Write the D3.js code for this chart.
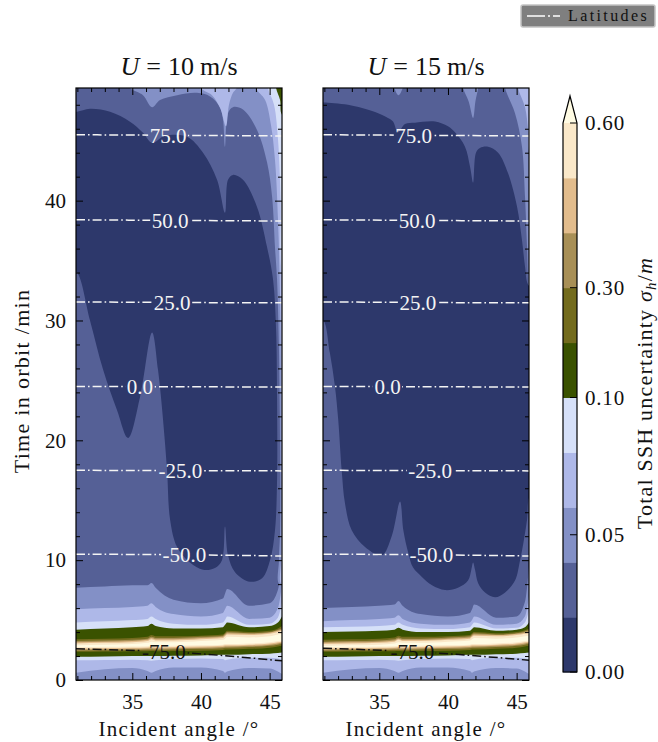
<!DOCTYPE html>
<html><head><meta charset="utf-8">
<script src="https://cdn.jsdelivr.net/npm/d3@7"></script>
<style>
body{margin:0;background:#fff;}
svg text{font-family:"Liberation Serif","Times New Roman",serif;fill:#111;}
</style></head><body>
<svg id="chart" width="658" height="742"></svg>
<script>
// ---------------- data ----------------
const levels = [0, 0.02, 0.04, 0.06, 0.08, 0.10, 0.20, 0.30, 0.40, 0.50, 0.60];
const bandColors = ['#2d386b','#556096','#8390c6','#aeb8e8','#d6e0f8','#3a5200','#736b1d','#a88f56','#e2bc8c','#fae8c9'];
const overColor = '#fffbe3';
const cbTickValues = [0, 0.05, 0.10, 0.30, 0.60];
const cbTickLabels = ['0.00','0.05','0.10','0.30','0.60'];
const xTicks = [35, 40, 45];
const xMinor = [31,32,33,34,36,37,38,39,41,42,43,44];
const yTicks = [0, 10, 20, 30, 40];
const yMinor = [2,4,6,8,12,14,16,18,22,24,26,28,32,34,36,38,42,44,46,48];
const angleDomain = [30.9, 45.9];
const timeDomain = [0, 49.4];
const windSpeeds = [10, 15];

// latitude contour lines (time at angles latAngles)
const latitudes = [-75, -50, -25, 0, 25, 50, 75];
const latAngles = [30.9, 38.4, 45.9];
const latTimes10 = [[2.6,2.3,1.6],[10.5,10.45,10.35],[17.5,17.47,17.45],[24.5,24.47,24.45],[31.55,31.5,31.47],[38.4,38.35,38.3],[45.5,45.45,45.4]];
const latTimes15 = [[2.65,2.3,1.65],[10.5,10.45,10.35],[17.5,17.47,17.45],[24.5,24.47,24.45],[31.55,31.5,31.47],[38.4,38.35,38.3],[45.5,45.45,45.4]];
const latLabelAngles10 = [37.3, 38.8, 38.5, 35.56, 37.9, 37.75, 37.6];
const latLabelAngles15 = [37.4, 38.8, 38.7, 35.6, 37.8, 37.75, 37.5];

// ---- U = 10 m/s field regions (angle, time) ----
const u10Navy = [[30.5,47.4],[30.97,47.41],[31.92,47.66],[33.38,47.41],[34.83,46.58],[35.78,45.66],[36.44,44.82],[37.38,45.41],[38.98,45.33],[40.15,43.99],[41.17,41.74],[41.75,38.98],[41.97,41.74],[42.33,42.15],[43.06,41.74],[44.08,39.48],[44.81,36.14],[45.25,33.39],[45.47,29.2],[45.54,23.4],[45.54,16.7],[45.39,12.5],[45.03,10.0],[44.45,8.5],[43.57,8.2],[42.48,9.0],[41.97,10.4],[41.75,12.8],[41.53,10.0],[41.02,9.35],[40.15,9.2],[39.2,9.8],[38.26,11.1],[37.75,13.4],[37.53,17.5],[37.24,21.7],[36.87,25.9],[36.44,29.0],[35.56,23.6],[34.69,20.2],[33.89,22.5],[32.87,25.9],[31.92,30.0],[30.97,34.0],[30.5,34.2]];
const u10Upper2 = [[34.7,50.5],[34.75,49.5],[35.78,48.8],[36.44,47.8],[37.02,48.4],[38.26,48.8],[39.71,49.0],[40.66,48.7],[41.39,47.8],[41.61,46.7],[41.75,44.5],[41.97,47.3],[42.33,47.8],[43.06,47.6],[44.08,45.9],[44.81,43.2],[45.18,40.3],[45.39,36.1],[45.54,33.4],[45.68,27.5],[45.76,19.2],[45.76,12.5],[45.68,10.0],[45.7,8],[46.6,8],[46.6,50.5]];
const u10Upper3a = [[39.9,50.5],[40.0,49.4],[40.8,48.8],[41.4,47.7],[41.82,46.2],[42.04,48.0],[42.33,49.0],[42.6,49.4],[42.7,50.5]];
const u10Upper3b = [[44.0,50.5],[44.01,49.4],[44.67,48.4],[45.1,46.3],[45.39,43.4],[45.61,38.4],[45.76,31.7],[45.83,23.4],[45.86,15.0],[45.83,10.0],[45.85,8.0],[46.6,8.0],[46.6,50.5]];
const u10Upper4 = [[44.85,50.5],[44.88,49.4],[45.32,48.0],[45.61,45.1],[45.8,40.0],[45.87,34],[46.6,30],[46.6,50.5]];
const u10Upper5 = [[45.45,50.5],[45.47,49.4],[45.76,48.4],[45.88,47.2],[46.6,46.5],[46.6,50.5]];

// bottom (ridge) bands: lower / upper time bounds of {value > level k}, k = 2..10
const bandAngles = [30.9, 33.0, 35.0, 36.1, 36.4, 36.7, 38.0, 40.0, 41.6, 41.75, 41.9, 43.5, 45.0, 45.6, 45.9];
const u10Hi = [
 [7.7, 7.8, 7.9, 7.9, 8.1, 7.7, 6.7, 6.4, 6.8, 7.2, 7.6, 6.2, 6.4, 7.5, 10.5],
 [5.9, 6.0, 6.1, 6.2, 6.4, 6.1, 5.5, 5.3, 5.6, 5.9, 6.2, 5.1, 5.2, 6.0, 8.0],
 [4.8, 4.9, 5.0, 5.1, 5.3, 5.1, 4.7, 4.6, 4.8, 5.0, 5.3, 4.6, 4.7, 5.2, 6.5],
 [4.2, 4.3, 4.4, 4.5, 4.7, 4.5, 4.3, 4.3, 4.4, 4.6, 4.8, 4.4, 4.5, 4.8, 5.3],
 [3.4, 3.45, 3.5, 3.6, 3.75, 3.65, 3.65, 3.7, 3.8, 3.95, 4.1, 4.0, 4.1, 4.3, 4.5],
 [3.25, 3.3, 3.35, 3.45, 3.6, 3.5, 3.5, 3.6, 3.7, 3.85, 4.0, 3.9, 4.0, 4.2, 4.3],
 [3.15, 3.2, 3.25, 3.35, 3.5, 3.4, 3.4, 3.5, 3.6, 3.75, 3.9, 3.85, 3.95, 4.1, 4.2],
 [3.05, 3.1, 3.15, 3.25, 3.4, 3.3, 3.3, 3.4, 3.5, 3.65, 3.8, 3.75, 3.85, 4.0, 4.1],
 [2.9, 2.95, 3.0, 3.1, 3.2, 3.15, 3.15, 3.25, 3.35, 3.45, 3.6, 3.55, 3.65, 3.8, 3.85]
];
const u10Lo = [
 [-2,-2,-2,-2,-2,-2,-2,-2,-2,-2,-2,-2,-2,-2,-2],
 [0.6, 0.9, 1.0, 0.75, 0.6, 0.75, 1.05, 1.05, 0.75, 0.6, 0.7, 1.0, 0.95, 0.7, 0.5],
 [1.65, 1.67, 1.7, 1.65, 1.6, 1.65, 1.75, 1.8, 1.75, 1.65, 1.7, 1.85, 1.85, 1.8, 1.7],
 [1.95, 1.97, 2.0, 2.0, 2.0, 2.0, 2.02, 2.05, 2.1, 2.1, 2.1, 2.15, 2.2, 2.25, 2.3],
 [2.35, 2.37, 2.4, 2.4, 2.42, 2.4, 2.42, 2.45, 2.5, 2.55, 2.55, 2.6, 2.7, 2.8, 2.85],
 [2.45, 2.48, 2.5, 2.52, 2.55, 2.52, 2.55, 2.6, 2.65, 2.7, 2.7, 2.75, 2.85, 2.95, 3.0],
 [2.55, 2.58, 2.6, 2.62, 2.65, 2.62, 2.65, 2.7, 2.75, 2.8, 2.8, 2.85, 2.95, 3.05, 3.1],
 [2.65, 2.68, 2.7, 2.72, 2.75, 2.72, 2.75, 2.8, 2.85, 2.9, 2.9, 2.95, 3.05, 3.15, 3.2],
 [2.75, 2.78, 2.8, 2.82, 2.85, 2.82, 2.85, 2.9, 2.95, 3.0, 3.0, 3.05, 3.15, 3.25, 3.3]
];

// ---- U = 15 m/s field regions ----
const u15Navy = [[30.5,48.2],[30.92,48.2],[32.72,48.0],[34.69,47.4],[35.63,46.9],[36.0,46.6],[36.36,45.7],[36.87,46.4],[37.6,46.5],[39.06,46.6],[40.0,46.2],[40.51,45.7],[41.24,44.5],[41.61,42.8],[41.83,41.5],[42.04,44.0],[42.33,44.4],[42.92,44.5],[43.65,44.0],[44.37,42.3],[45.03,39.5],[45.39,36.7],[45.61,34.5],[45.83,33.0],[46.3,32.5],[46.3,15.3],[45.95,15.3],[45.76,13.4],[45.5,11.5],[45.25,10.0],[44.88,8.3],[44.16,7.3],[43.43,6.9],[42.7,7.3],[42.19,8.1],[41.97,9.2],[41.83,9.8],[41.7,9.2],[41.46,8.3],[40.73,7.7],[39.79,7.5],[38.84,7.9],[38.1,8.6],[37.45,9.4],[37.11,10.6],[36.75,12.5],[36.51,14.9],[35.9,12.0],[35.18,10.4],[33.96,11.1],[32.99,12.5],[32.5,14.75],[32.26,17.5],[32.01,21.7],[31.77,24.5],[31.4,27.3],[30.92,30.05],[30.5,30.2]];
const u15Upper2a = [[36.0,50.5],[36.1,49.4],[36.4,48.8],[36.7,49.4],[36.8,50.5]];
const u15Upper2b = [[41.0,50.5],[41.1,49.4],[41.5,48.3],[41.83,46.9],[42.0,48.3],[42.2,49.4],[42.3,50.5]];
const u15Upper2c = [[44.1,50.5],[44.16,49.4],[44.88,47.3],[45.39,44.5],[45.61,40.3],[45.76,36.1],[45.83,33.4],[45.92,31.5],[46.6,31.0],[46.6,50.5]];
const u15Upper3 = [[45.05,50.5],[45.1,49.4],[45.61,47.8],[45.83,45.9],[45.92,44],[46.6,43],[46.6,50.5]];
const u15Hi = [
 [6.0, 6.1, 6.2, 6.3, 6.6, 6.2, 5.5, 5.3, 5.6, 5.9, 6.3, 5.2, 5.3, 6.5, 9.5],
 [4.9, 5.0, 5.1, 5.2, 5.4, 5.1, 4.7, 4.6, 4.8, 5.0, 5.3, 4.6, 4.7, 5.3, 7.0],
 [4.4, 4.45, 4.5, 4.6, 4.8, 4.6, 4.3, 4.25, 4.4, 4.6, 4.8, 4.3, 4.35, 4.8, 5.8],
 [4.0, 4.05, 4.1, 4.2, 4.35, 4.2, 4.0, 4.0, 4.1, 4.25, 4.4, 4.1, 4.2, 4.4, 4.8],
 [3.35, 3.4, 3.45, 3.55, 3.7, 3.6, 3.6, 3.65, 3.75, 3.9, 4.0, 3.9, 4.0, 4.15, 4.3],
 [3.2, 3.25, 3.3, 3.4, 3.55, 3.45, 3.45, 3.55, 3.65, 3.8, 3.9, 3.8, 3.9, 4.05, 4.15],
 [3.1, 3.15, 3.2, 3.3, 3.45, 3.35, 3.35, 3.45, 3.55, 3.7, 3.8, 3.75, 3.85, 3.95, 4.05],
 [3.0, 3.05, 3.1, 3.2, 3.35, 3.25, 3.25, 3.35, 3.45, 3.6, 3.7, 3.65, 3.75, 3.85, 3.95],
 [2.85, 2.9, 2.95, 3.05, 3.15, 3.1, 3.1, 3.2, 3.3, 3.4, 3.5, 3.45, 3.55, 3.65, 3.7]
];
const u15Lo = u10Lo.map(r => r.slice());

const panels = [
  {x0: 76, ws: windSpeeds[0], navy: u10Navy,
   upper: [{k:2, pts:u10Upper2},{k:3, pts:u10Upper3a},{k:3, pts:u10Upper3b},{k:4, pts:u10Upper4},{k:5, pts:u10Upper5}],
   hi: u10Hi, lo: u10Lo, latT: latTimes10, latLab: latLabelAngles10},
  {x0: 323, ws: windSpeeds[1], navy: u15Navy,
   upper: [{k:2, pts:u15Upper2a},{k:2, pts:u15Upper2b},{k:2, pts:u15Upper2c},{k:3, pts:u15Upper3}],
   hi: u15Hi, lo: u15Lo, latT: latTimes15, latLab: latLabelAngles15}
];

// ---------------- drawing ----------------
const svg = d3.select('#chart');
const PW = 206, PY0 = 88, PH = 592;
const FS = 21;
const colorOf = k => k < 10 ? bandColors[k] : overColor;
const defs = svg.append('defs');

panels.forEach((p, pi) => {
  const x = d3.scaleLinear().domain(angleDomain).range([p.x0, p.x0 + PW]);
  const y = d3.scaleLinear().domain(timeDomain).range([PY0 + PH, PY0]);
  defs.append('clipPath').attr('id', 'clip' + pi)
    .append('rect').attr('x', p.x0).attr('y', PY0).attr('width', PW).attr('height', PH);
  const g = svg.append('g').attr('clip-path', `url(#clip${pi})`);
  g.append('rect').attr('x', p.x0).attr('y', PY0).attr('width', PW).attr('height', PH).attr('fill', bandColors[1]);

  const poly = d3.line().x(d => x(d[0])).y(d => y(d[1])).curve(d3.curveCatmullRomClosed.alpha(0.5));
  const area = d3.area().x(d => x(d[0])).y0(d => y(d[1])).y1(d => y(d[2])).curve(d3.curveMonotoneX);
  for (let k = 2; k <= 10; k++) {
    p.upper.filter(u => u.k === k).forEach(u => {
      g.append('path').attr('d', poly(u.pts)).attr('fill', colorOf(k));
    });
    const rows = bandAngles.map((a, i) => [a, p.lo[k - 2][i], p.hi[k - 2][i]]);
    g.append('path').attr('d', area(rows)).attr('fill', colorOf(k));
  }
  g.append('path').attr('d', poly(p.navy)).attr('fill', bandColors[0]);

  // latitude lines with labels
  const mask = defs.append('mask').attr('id', 'mask' + pi).attr('maskUnits', 'userSpaceOnUse')
    .attr('x', 0).attr('y', 0).attr('width', 658).attr('height', 742);
  mask.append('rect').attr('x', 0).attr('y', 0).attr('width', 658).attr('height', 742).attr('fill', '#fff');
  const lineG = g.append('g').attr('mask', `url(#mask${pi})`);
  const labG = g.append('g');
  const latLine = d3.line().x(d => x(d[0])).y(d => y(d[1])).curve(d3.curveMonotoneX);
  latitudes.forEach((lat, li) => {
    const col = lat === -75 ? '#111' : '#f4f4f4';
    const pts = latAngles.map((a, i) => [a, p.latT[li][i]]);
    lineG.append('path').attr('d', latLine(pts)).attr('fill', 'none')
      .attr('stroke', col).attr('stroke-width', 1.5).attr('stroke-dasharray', '9,3,1.6,3');
    const la = p.latLab[li];
    const lt = d3.scaleLinear().domain(latAngles).range(p.latT[li])(la);
    const t = labG.append('text').attr('x', x(la)).attr('y', y(lt)).attr('dy', '0.35em')
      .attr('text-anchor', 'middle').style('font-size', FS + 'px').style('fill', col)
      .text(lat.toFixed(1));
    const w = t.node().getComputedTextLength();
    mask.append('rect').attr('x', x(la) - w / 2 - 1.5).attr('y', y(lt) - 9).attr('width', w + 3).attr('height', 18).attr('fill', '#000');
  });

  // axes
  const styleAxis = sel => {
    sel.select('.domain').remove();
    sel.selectAll('line').attr('stroke', '#000').attr('stroke-width', 1);
    sel.selectAll('text').style('font-size', FS + 'px').style('font-family', '"Liberation Serif",serif').attr('fill', '#111');
  };
  svg.append('g').attr('transform', `translate(0,${PY0 + PH})`)
    .call(d3.axisBottom(x).tickValues(xTicks).tickSize(-7).tickPadding(14).tickFormat(d3.format('d'))).call(styleAxis);
  svg.append('g').attr('transform', `translate(0,${PY0 + PH})`)
    .call(d3.axisBottom(x).tickValues(xMinor).tickSize(-4).tickFormat('')).call(styleAxis);
  svg.append('g').attr('transform', `translate(0,${PY0})`)
    .call(d3.axisTop(x).tickValues(xTicks).tickSize(-7).tickFormat('')).call(styleAxis);
  svg.append('g').attr('transform', `translate(0,${PY0})`)
    .call(d3.axisTop(x).tickValues(xMinor).tickSize(-4).tickFormat('')).call(styleAxis);
  svg.append('g').attr('transform', `translate(${p.x0},0)`)
    .call(d3.axisLeft(y).tickValues(yTicks).tickSize(-7).tickPadding(10).tickFormat(pi === 0 ? d3.format('d') : '')).call(styleAxis);
  svg.append('g').attr('transform', `translate(${p.x0},0)`)
    .call(d3.axisLeft(y).tickValues(yMinor).tickSize(-4).tickFormat('')).call(styleAxis);
  svg.append('g').attr('transform', `translate(${p.x0 + PW},0)`)
    .call(d3.axisRight(y).tickValues(yTicks).tickSize(-7).tickFormat('')).call(styleAxis);
  svg.append('g').attr('transform', `translate(${p.x0 + PW},0)`)
    .call(d3.axisRight(y).tickValues(yMinor).tickSize(-4).tickFormat('')).call(styleAxis);
  svg.append('rect').attr('x', p.x0).attr('y', PY0).attr('width', PW).attr('height', PH)
    .attr('fill', 'none').attr('stroke', '#000').attr('stroke-width', 1.2);

  // title
  const tt = svg.append('text').attr('x', p.x0 + PW / 2).attr('y', 75).attr('text-anchor', 'middle')
    .style('font-size', '26px');
  tt.append('tspan').style('font-style', 'italic').text('U');
  tt.append('tspan').attr('dx', 7).text('=');
  tt.append('tspan').attr('dx', 7).text(String(p.ws));
  tt.append('tspan').attr('dx', 6).text('m/s');
  // x label
  svg.append('text').attr('x', p.x0 + PW / 2).attr('y', 736).attr('text-anchor', 'middle')
    .style('font-size', '21px').style('letter-spacing', '1.3px')
    .text('Incident angle /°');
});

// y label
svg.append('text').attr('transform', 'translate(29,381) rotate(-90)').attr('text-anchor', 'middle')
  .style('font-size', '22px').style('letter-spacing', '1.3px')
  .text('Time in orbit /min');

// ---------------- colorbar ----------------
const cbX = 563, cbW = 14, cbTop = 123, cbBot = 672, cbTip = 96;
const yCB = d3.scaleLinear().domain([0, levels.length - 1]).range([cbBot, cbTop]);
const idx = d3.scaleLinear().domain(levels).range(d3.range(levels.length));
bandColors.forEach((c, i) => {
  svg.append('rect').attr('x', cbX).attr('y', yCB(i + 1)).attr('width', cbW)
    .attr('height', yCB(i) - yCB(i + 1) + 0.5).attr('fill', c);
});
svg.append('path').attr('d', `M${cbX},${cbTop} L${cbX + cbW / 2},${cbTip} L${cbX + cbW},${cbTop} Z`).attr('fill', overColor);
svg.append('path').attr('d', `M${cbX},${cbBot} L${cbX},${cbTop} L${cbX + cbW / 2},${cbTip} L${cbX + cbW},${cbTop} L${cbX + cbW},${cbBot} Z`)
  .attr('fill', 'none').attr('stroke', '#000').attr('stroke-width', 1.2);
cbTickValues.forEach((v, i) => {
  const yy = yCB(idx(v));
  svg.append('line').attr('x1', cbX + cbW - 7).attr('x2', cbX + cbW).attr('y1', yy).attr('y2', yy).attr('stroke', '#000').attr('stroke-width', 1);
  svg.append('text').attr('x', 585).attr('y', yy).attr('dy', '0.35em').style('font-size', FS + 'px')
    .style('letter-spacing', '0.8px').text(cbTickLabels[i]);
});
const cbl = svg.append('text').attr('transform', 'translate(652,393) rotate(-90)').attr('text-anchor', 'middle')
  .style('font-size', '22px').style('letter-spacing', '1.2px');
cbl.append('tspan').text('Total SSH uncertainty ');
cbl.append('tspan').style('font-style', 'italic').text('σ');
cbl.append('tspan').style('font-style', 'italic').style('font-size', '15px').attr('dy', 4).text('h');
cbl.append('tspan').attr('dy', -4).text('/');
cbl.append('tspan').style('font-style', 'italic').text('m');

// ---------------- legend ----------------
const lg = svg.append('g');
lg.append('rect').attr('x', 521).attr('y', 5).attr('width', 134).attr('height', 22).attr('rx', 2)
  .attr('fill', '#7f7f7f').attr('stroke', '#c4c4c4').attr('stroke-width', 1.5);
lg.append('line').attr('x1', 527).attr('x2', 560).attr('y1', 16).attr('y2', 16)
  .attr('stroke', '#fff').attr('stroke-width', 1.6).attr('stroke-dasharray', '18,3,2,3');
lg.append('text').attr('x', 568).attr('y', 21).style('font-size', '16px').style('letter-spacing', '2.4px')
  .text('Latitudes');
</script>
</body></html>
